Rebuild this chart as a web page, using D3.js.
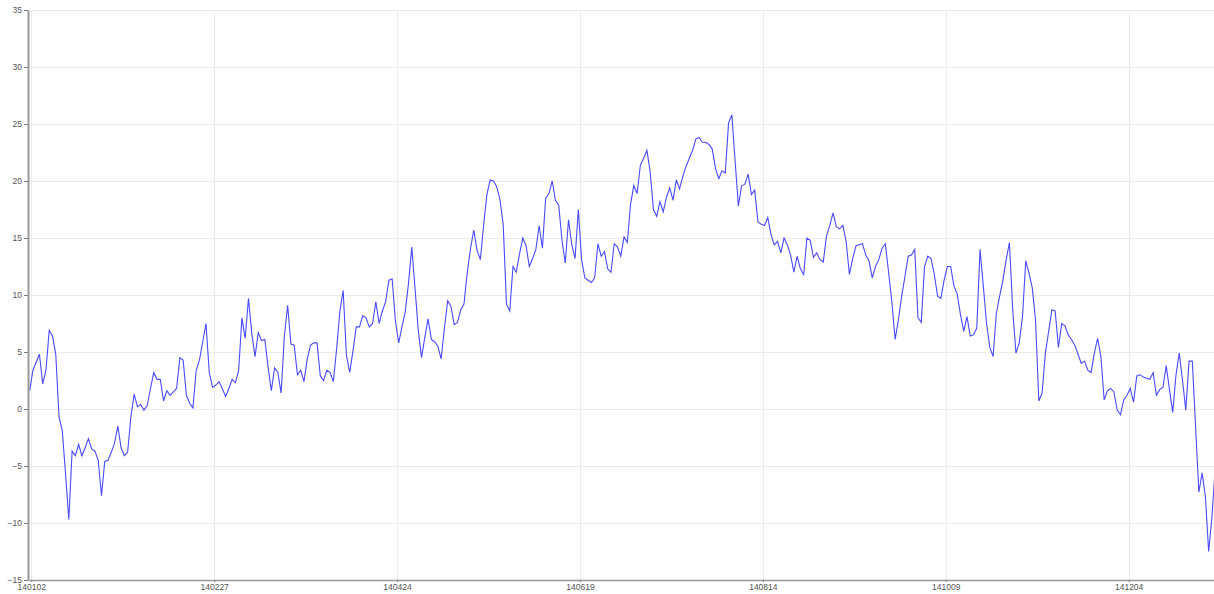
<!DOCTYPE html>
<html lang="en">
<head>
<meta charset="utf-8">
<title>Daily temperature 2014</title>
<script src="https://cdn.jsdelivr.net/npm/d3@7"></script>
<style>
    body { margin: 0; background: #fff; }
    .axis text { font-family: "Liberation Sans", Arial, sans-serif; font-size: 8.5px; fill: #555; }
</style>
</head>
<body>
<script>
    // one value per day, starting 140101
    var firstDay = "140101";
    var temps = [
        1.6, 3.4, 4.1, 4.8, 2.2, 3.4, 6.9, 6.4, 4.8, -0.7,
        -1.9, -5.7, -9.7, -3.7, -4.1, -3.1, -4.1, -3.4, -2.6, -3.5,
        -3.7, -4.5, -7.6, -4.6, -4.5, -3.8, -3.0, -1.5, -3.4, -4.1,
        -3.8, -0.7, 1.3, 0.2, 0.4, -0.1, 0.3, 1.8, 3.2, 2.6,
        2.6, 0.7, 1.6, 1.2, 1.5, 1.8, 4.5, 4.3, 1.2, 0.5,
        0.1, 3.4, 4.3, 5.9, 7.5, 3.2, 1.9, 2.1, 2.4, 1.8,
        1.1, 1.8, 2.6, 2.3, 3.4, 8.0, 6.2, 9.7, 6.7, 4.6,
        6.7, 6.0, 6.1, 3.7, 1.6, 3.6, 3.2, 1.4, 6.4, 9.1,
        5.7, 5.6, 3.0, 3.4, 2.4, 4.4, 5.6, 5.8, 5.8, 2.9,
        2.5, 3.4, 3.2, 2.4, 5.3, 8.6, 10.4, 4.7, 3.2, 5.1,
        7.2, 7.2, 8.2, 8.0, 7.2, 7.5, 9.4, 7.5, 8.6, 9.4,
        11.3, 11.4, 7.7, 5.8, 7.2, 8.5, 11.0, 14.2, 10.6, 6.9,
        4.5, 6.3, 7.9, 6.1, 5.9, 5.5, 4.4, 7.1, 9.5, 9.0,
        7.4, 7.6, 8.7, 9.2, 12.0, 14.1, 15.7, 13.9, 13.1, 16.1,
        18.8, 20.1, 20.0, 19.5, 18.4, 16.2, 9.2, 8.6, 12.5, 12.0,
        13.6, 15.0, 14.3, 12.5, 13.2, 14.0, 16.1, 14.1, 18.5, 18.9,
        20.0, 18.3, 17.9, 14.8, 12.8, 16.6, 14.4, 13.2, 17.5, 13.1,
        11.5, 11.3, 11.1, 11.5, 14.5, 13.4, 13.8, 12.3, 12.0, 14.5,
        14.2, 13.4, 15.1, 14.6, 18.0, 19.6, 18.9, 21.4, 22.0, 22.7,
        20.8, 17.5, 16.9, 18.2, 17.3, 18.6, 19.4, 18.3, 20.1, 19.3,
        20.4, 21.3, 22.0, 22.7, 23.7, 23.8, 23.4, 23.4, 23.2, 22.8,
        21.1, 20.2, 20.9, 20.7, 25.1, 25.8, 21.8, 17.8, 19.6, 19.7,
        20.6, 18.8, 19.2, 16.4, 16.2, 16.1, 16.8, 15.3, 14.4, 14.7,
        13.7, 15.0, 14.4, 13.5, 12.0, 13.4, 12.3, 11.8, 15.0, 14.8,
        13.3, 13.7, 13.1, 12.9, 15.2, 16.1, 17.2, 16.0, 15.8, 16.1,
        14.7, 11.8, 13.2, 14.3, 14.4, 14.5, 13.5, 13.0, 11.5, 12.5,
        13.1, 14.1, 14.5, 12.0, 9.4, 6.1, 7.8, 9.9, 11.6, 13.4,
        13.5, 14.0, 8.0, 7.6, 12.5, 13.4, 13.2, 11.8, 9.9, 9.7,
        11.3, 12.5, 12.5, 10.8, 10.1, 8.3, 6.8, 8.1, 6.4, 6.5,
        7.1, 14.0, 10.8, 7.5, 5.4, 4.6, 8.4, 9.9, 11.3, 13.1,
        14.6, 8.7, 4.9, 5.8, 8.1, 13.0, 11.9, 10.6, 7.8, 0.7,
        1.4, 4.9, 6.8, 8.7, 8.6, 5.4, 7.5, 7.3, 6.5, 6.1,
        5.6, 4.8, 4.0, 4.2, 3.4, 3.2, 4.9, 6.2, 4.6, 0.8,
        1.6, 1.8, 1.5, -0.1, -0.5, 0.8, 1.2, 1.8, 0.6, 2.9,
        3.0, 2.8, 2.7, 2.6, 3.2, 1.2, 1.7, 1.9, 3.8, 1.7,
        -0.3, 3.0, 4.9, 2.5, -0.1, 4.2, 4.2, -1.6, -7.3, -5.6,
        -7.7, -12.5, -9.5, -5.2, -4.0
    ];
    var xTickLabels = ["140102", "140227", "140424", "140619", "140814", "141009", "141204"];
    var yTicks = [-15, -10, -5, 0, 5, 10, 15, 20, 25, 30, 35];

    var width = 1214;
    var height = 594;
    var plotLeft = 28, plotTop = 10, plotBottom = 580;
    var dayPx = 3.266;

    var parse = d3.timeParse("%y%m%d");
    var fmt = d3.timeFormat("%y%m%d");
    var start = parse(firstDay);
    var end = d3.timeDay.offset(start, temps.length - 1);

    // readings taken at midday
    var data = temps.map(function (t, i) {
        return { date: d3.timeHour.offset(d3.timeDay.offset(start, i), 12), temp: t };
    });
    var tickDates = xTickLabels.map(parse);

    var x = d3.scaleTime()
        .domain([start, end])
        .range([plotLeft, plotLeft + dayPx * (temps.length - 1)]);

    var y = d3.scaleLinear()
        .domain([d3.min(yTicks), d3.max(yTicks)])
        .range([plotBottom, plotTop]);

    var svg = d3.select("body").append("svg")
        .attr("width", width)
        .attr("height", height);

    // grid
    svg.append("g").selectAll("line")
        .data(yTicks)
        .enter()
        .append("line")
        .attr("x1", plotLeft)
        .attr("x2", width)
        .attr("y1", function (d) { return Math.round(y(d)) + 0.5; })
        .attr("y2", function (d) { return Math.round(y(d)) + 0.5; })
        .attr("stroke", "#ececec");

    svg.append("g").selectAll("line")
        .data(tickDates)
        .enter()
        .append("line")
        .attr("x1", function (d) { return Math.round(x(d)) + 0.5; })
        .attr("x2", function (d) { return Math.round(x(d)) + 0.5; })
        .attr("y1", plotTop)
        .attr("y2", plotBottom)
        .attr("stroke", "#ececec");

    // the line
    var line = d3.line()
        .x(function (d) { return x(d.date); })
        .y(function (d) { return y(d.temp); });

    svg.append("path")
        .datum(data)
        .attr("d", line)
        .attr("fill", "none")
        .attr("stroke", "#4a4aff")
        .attr("stroke-width", 1.1);

    // axes
    var yAxis = svg.append("g")
        .attr("class", "axis")
        .attr("transform", "translate(" + plotLeft + ",0)")
        .call(d3.axisLeft(y).tickValues(yTicks).tickSize(4).tickPadding(2).tickSizeOuter(0));

    var xAxis = svg.append("g")
        .attr("class", "axis")
        .attr("transform", "translate(0," + plotBottom + ")")
        .call(d3.axisBottom(x).tickValues(tickDates).tickFormat(fmt).tickSize(2).tickPadding(0).tickSizeOuter(0));

    yAxis.select(".domain").attr("stroke", "#999").attr("stroke-width", 2);
    xAxis.select(".domain").attr("stroke", "#999").attr("stroke-width", 1.5);
    svg.selectAll(".axis .tick line").attr("stroke", "#777");
    xAxis.selectAll("text").attr("dy", "0.9em");
</script>
</body>
</html>
